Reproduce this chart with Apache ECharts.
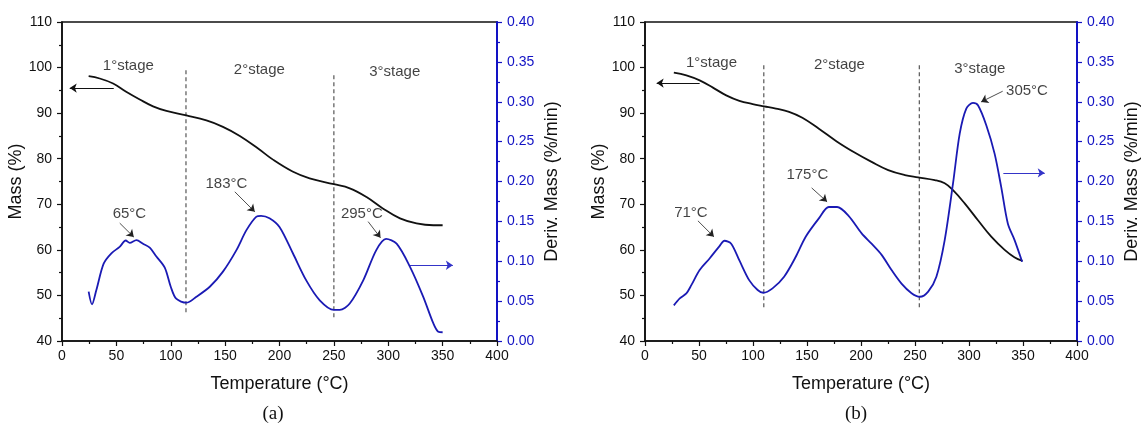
<!DOCTYPE html>
<html>
<head>
<meta charset="utf-8">
<script src="https://cdn.jsdelivr.net/npm/echarts@6/dist/echarts.min.js"></script>
<style>
  html, body { margin: 0; padding: 0; background: #fff; }
  #chart { width: 1142px; height: 423px; }
</style>
</head>
<body>
<div id="chart"></div>
<script>
// ---- Axis ticks ----
const tempTicks = [0, 50, 100, 150, 200, 250, 300, 350, 400];
const massTicks = [40, 50, 60, 70, 80, 90, 100, 110];
const derivTicks = [0.00, 0.05, 0.10, 0.15, 0.20, 0.25, 0.30, 0.35, 0.40];

// ---- Sample (a): TGA mass curve ----
const massTempA = [24.5, 34.7, 47, 59, 71.5, 83.7, 96, 114.4, 132.8, 148, 163.5, 180, 194, 212, 227.7, 250, 264.6, 280, 295, 310.8, 326, 341.5, 350];
const massA = [98.1, 97.6, 96.5, 94.7, 93.0, 91.5, 90.5, 89.5, 88.4, 87.0, 85.0, 82.3, 79.8, 77.2, 75.7, 74.4, 73.5, 71.6, 69.1, 66.9, 65.8, 65.4, 65.4];

// ---- Sample (a): DTG curve ----
const derivTempA = [24.5, 27.6, 31.6, 38.3, 45.4, 53, 58.6, 62.3, 68.4, 74.5, 80.7, 86.8, 94.5, 100, 105, 114.4, 123.6, 135.9, 148, 160.4, 169.6, 178.8, 183, 190.8, 200, 212.3, 224.6, 237, 250, 255.4, 264.6, 277, 289, 298, 307.7, 320, 332, 341.5, 346, 350];
const derivA = [0.062, 0.046, 0.064, 0.097, 0.110, 0.118, 0.126, 0.123, 0.1265, 0.122, 0.117, 0.106, 0.092, 0.068, 0.053, 0.048, 0.0555, 0.068, 0.087, 0.114, 0.139, 0.156, 0.157, 0.154, 0.143, 0.110, 0.076, 0.051, 0.039, 0.039, 0.047, 0.076, 0.114, 0.128, 0.122, 0.093, 0.056, 0.022, 0.0117, 0.011];

// ---- Sample (b): TGA mass curve ----
const massTempB = [26.7, 38.3, 50.6, 62.9, 75.2, 87.4, 99.7, 110.4, 121.2, 133.4, 145.7, 161, 177.5, 194.5, 209.8, 225.2, 240.6, 252.9, 268.3, 277.5, 285.2, 296, 308.3, 320.6, 333, 342, 349.5];
const massB = [98.9, 98.3, 97.2, 95.6, 93.9, 92.7, 92.0, 91.5, 91.0, 90.3, 89.0, 86.6, 83.8, 81.3, 79.3, 77.5, 76.4, 75.9, 75.3, 74.6, 73.1, 70.2, 66.5, 62.9, 60.0, 58.4, 57.6];

// ---- Sample (b): DTG curve ----
const derivTempB = [26.7, 32.2, 38.3, 42.9, 50.6, 59.8, 69, 73.6, 79.8, 87.4, 96.6, 104.3, 109.5, 118.1, 128.8, 139.6, 148.8, 161, 170.2, 177.9, 188.5, 200.6, 209.8, 219.1, 228.3, 237.5, 246.8, 254.5, 262.2, 269.8, 277.5, 285.2, 291.4, 297.5, 303.7, 308.3, 316, 323.7, 329.8, 336, 342.2, 349.2];
const derivB = [0.0447, 0.0534, 0.0597, 0.070, 0.089, 0.1035, 0.119, 0.1257, 0.122, 0.101, 0.076, 0.064, 0.0605, 0.066, 0.0806, 0.1056, 0.1307, 0.1537, 0.168, 0.168, 0.157, 0.135, 0.122, 0.108, 0.089, 0.072, 0.060, 0.0555, 0.062, 0.0806, 0.1265, 0.1975, 0.260, 0.2915, 0.2985, 0.2956, 0.2706, 0.235, 0.1933, 0.147, 0.1265, 0.0994];

// ---- Stage boundaries: temperature, top and bottom of the dashed line (mass %) ----
const stageLinesA = [[114, 99.4, 45.9], [250, 98.3, 44.6]];
const stageLinesB = [[110, 100.5, 46.9], [254, 100.5, 46.8]];

// ---- Stage names: [temperature, mass %, text] ----
const stageNamesA = [[61, 100.35, '1°stage'], [181.5, 99.4, '2°stage'], [306, 99.0, '3°stage']];
const stageNamesB = [[61.6, 101.1, '1°stage'], [180, 100.5, '2°stage'], [310, 99.8, '3°stage']];

// ---- DTG peak labels: [temperature, deriv, text] ----
const peakNamesA = [[62, 0.159, '65°C'], [151.2, 0.1976, '183°C'], [275.7, 0.159, '295°C']];
const peakNamesB = [[42.5, 0.1607, '71°C'], [150.3, 0.208, '175°C'], [353.7, 0.3132, '305°C']];

// ---- Peak pointer arrows: [T0, d0, T1, d1] ----
const peakArrowsA = [[53.1, 0.1478, 66, 0.1303], [158.9, 0.1871, 177.3, 0.162], [281.5, 0.1497, 292.9, 0.1294]];
const peakArrowsB = [[49, 0.1507, 63.8, 0.1307], [154.3, 0.192, 168.6, 0.1745], [331.2, 0.3132, 311.2, 0.2998]];

// ---- Axis pointer arrows: mass curve -> left axis, DTG curve -> right axis ----
const massArrowA = [47.6, 7.1, 95.5];   // T start, T end, mass
const massArrowB = [50.6, 10.8, 96.6];
const derivArrowA = [320, 359.4, 0.095]; // T start, T end, deriv
const derivArrowB = [331.8, 370.1, 0.2108];

const FONT = '"Liberation Sans", Arial, sans-serif';
const BLUE = '#1a1ab4';
const AXIS_BLUE = '#1212c4';
const BLACK = '#111';

const zip = (xs, ys) => xs.map((x, i) => [x, ys[i]]);

function xAxisFor(gridIndex) {
  return {
    type: 'value', gridIndex, min: tempTicks[0], max: tempTicks[tempTicks.length - 1],
    interval: tempTicks[1] - tempTicks[0],
    name: 'Temperature (°C)', nameLocation: 'middle', nameGap: 34,
    nameTextStyle: { fontFamily: FONT, fontSize: 18, color: BLACK },
    axisLine: { onZero: false, lineStyle: { color: BLACK, width: 1.6 } },
    axisTick: { length: 5, lineStyle: { color: BLACK, width: 1.2 } },
    minorTick: { show: true, splitNumber: 2, length: 3, lineStyle: { color: BLACK, width: 1.2 } },
    splitLine: { show: false },
    axisLabel: { fontFamily: FONT, fontSize: 14, color: BLACK, margin: 8 }
  };
}

function massAxisFor(gridIndex) {
  return {
    type: 'value', gridIndex, position: 'left',
    min: massTicks[0], max: massTicks[massTicks.length - 1], interval: massTicks[1] - massTicks[0],
    name: 'Mass (%)', nameLocation: 'middle', nameGap: 33, nameRotate: 90,
    nameTextStyle: { fontFamily: FONT, fontSize: 18, color: BLACK },
    axisLine: { show: true, lineStyle: { color: BLACK, width: 1.6 } },
    axisTick: { show: true, length: 5, lineStyle: { color: BLACK, width: 1.2 } },
    minorTick: { show: true, splitNumber: 2, length: 3, lineStyle: { color: BLACK, width: 1.2 } },
    splitLine: { show: false },
    axisLabel: { fontFamily: FONT, fontSize: 14, color: BLACK, margin: 10 }
  };
}

function derivAxisFor(gridIndex) {
  return {
    type: 'value', gridIndex, position: 'right',
    min: derivTicks[0], max: derivTicks[derivTicks.length - 1], interval: derivTicks[1] - derivTicks[0],
    name: 'Deriv. Mass (%/min)', nameLocation: 'middle', nameGap: 46, nameRotate: 90,
    nameTextStyle: { fontFamily: FONT, fontSize: 18, color: BLACK },
    axisLine: { show: true, lineStyle: { color: AXIS_BLUE, width: 2 } },
    axisTick: { show: true, length: 5, lineStyle: { color: AXIS_BLUE, width: 1.2 } },
    minorTick: { show: true, splitNumber: 2, length: 3, lineStyle: { color: AXIS_BLUE, width: 1.2 } },
    splitLine: { show: false },
    axisLabel: { fontFamily: FONT, fontSize: 14, color: AXIS_BLUE, margin: 10,
                 formatter: v => v.toFixed(2) }
  };
}

function arrowLine(x0, y0, x1, y1, color, width) {
  return [
    { coord: [x0, y0], lineStyle: { color, width, type: 'solid' } },
    { coord: [x1, y1] }
  ];
}

function panelSeries(p, d) {
  const xi = p, yl = p * 2, yr = p * 2 + 1;
  const series = [];

  // TGA mass curve with the pointer to the left axis
  series.push({
    type: 'line', xAxisIndex: xi, yAxisIndex: yl, data: zip(d.massT, d.mass),
    showSymbol: false, smooth: 0.4, lineStyle: { color: BLACK, width: 1.8 }, z: 3, silent: true,
    markLine: {
      silent: true, symbol: ['none', 'arrow'], symbolSize: 7, label: { show: false },
      lineStyle: { color: BLACK, width: 1 },
      data: [arrowLine(d.massArrow[0], d.massArrow[2], d.massArrow[1], d.massArrow[2], BLACK, 1)]
    }
  });

  // DTG curve with the pointer to the right axis and the peak arrows
  series.push({
    type: 'line', xAxisIndex: xi, yAxisIndex: yr, data: zip(d.derivT, d.deriv),
    showSymbol: false, smooth: 0.3, lineStyle: { color: BLUE, width: 1.8 }, z: 3, silent: true,
    markLine: {
      silent: true, symbol: ['none', 'arrow'], symbolSize: 7, label: { show: false },
      lineStyle: { color: BLACK, width: 1 },
      data: [arrowLine(d.derivArrow[0], d.derivArrow[2], d.derivArrow[1], d.derivArrow[2], '#3434c8', 1.2)]
        .concat(d.peakArrows.map(a => arrowLine(a[0], a[1], a[2], a[3], '#222', 0.8)))
    }
  });

  // Dashed stage boundaries
  d.stageLines.forEach(s => {
    series.push({
      type: 'line', xAxisIndex: xi, yAxisIndex: yl, data: [[s[0], s[1]], [s[0], s[2]]],
      showSymbol: false, silent: true, z: 2,
      lineStyle: { color: '#555', width: 1.2, type: [4, 3] }
    });
  });

  // Stage names
  series.push({
    type: 'scatter', xAxisIndex: xi, yAxisIndex: yl, symbolSize: 0, silent: true, z: 5,
    data: d.stageNames,
    label: { show: true, position: 'inside', formatter: q => q.data[2],
             fontFamily: FONT, fontSize: 15, color: BLACK }
  });

  // Peak temperatures
  series.push({
    type: 'scatter', xAxisIndex: xi, yAxisIndex: yr, symbolSize: 0, silent: true, z: 5,
    data: d.peakNames,
    label: { show: true, position: 'inside', formatter: q => q.data[2],
             fontFamily: FONT, fontSize: 15, color: BLACK }
  });

  return series;
}

const panels = [
  { massT: massTempA, mass: massA, derivT: derivTempA, deriv: derivA,
    stageLines: stageLinesA, stageNames: stageNamesA, peakNames: peakNamesA,
    peakArrows: peakArrowsA, massArrow: massArrowA, derivArrow: derivArrowA },
  { massT: massTempB, mass: massB, derivT: derivTempB, deriv: derivB,
    stageLines: stageLinesB, stageNames: stageNamesB, peakNames: peakNamesB,
    peakArrows: peakArrowsB, massArrow: massArrowB, derivArrow: derivArrowB }
];

const chart = echarts.init(document.getElementById('chart'), null, { renderer: 'canvas' });

const panelLabelStyle = {
  fontFamily: '"Liberation Serif", "Times New Roman", serif',
  fontSize: 19, fontWeight: 'normal', color: BLACK
};

chart.setOption({
  animation: false,
  backgroundColor: '#fff',
  title: [
    { text: '(a)', left: 268, top: 400, textAlign: 'center', textStyle: panelLabelStyle },
    { text: '(b)', left: 851, top: 400, textAlign: 'center', textStyle: panelLabelStyle }
  ],
  grid: [
    { left: 62, top: 22, width: 435, height: 319, show: true, borderColor: BLACK, borderWidth: 1.6, backgroundColor: 'transparent' },
    { left: 645, top: 22, width: 434, height: 319, show: true, borderColor: BLACK, borderWidth: 1.6, backgroundColor: 'transparent' }
  ],
  xAxis: [xAxisFor(0), xAxisFor(1)],
  yAxis: [massAxisFor(0), derivAxisFor(0), massAxisFor(1), derivAxisFor(1)],
  series: panelSeries(0, panels[0]).concat(panelSeries(1, panels[1]))
});
</script>
</body>
</html>
